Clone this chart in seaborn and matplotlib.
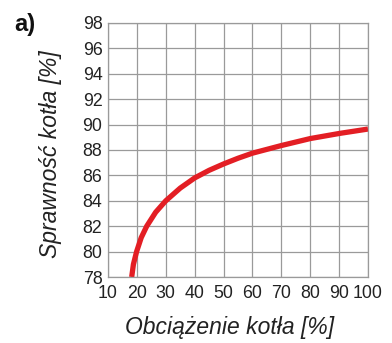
import matplotlib
matplotlib.use("Agg")
import matplotlib.pyplot as plt
import pandas as pd
import seaborn as sns

# Boiler efficiency vs. boiler load
load = [18.2, 18.8, 19.9, 21.5, 23.4, 26.5, 30.0, 35.0, 40.0, 45.0, 50.0,
        55.0, 60.0, 70.0, 80.0, 90.0, 100.0]
efficiency = [78.0, 79.0, 80.0, 81.1, 82.0, 83.1, 84.0, 85.0, 85.8, 86.4,
              86.9, 87.35, 87.75, 88.35, 88.9, 89.3, 89.65]

x_ticks = [10, 20, 30, 40, 50, 60, 70, 80, 90, 100]
y_ticks = [78, 80, 82, 84, 86, 88, 90, 92, 94, 96, 98]

df = pd.DataFrame({"load": load, "eff": efficiency})

sns.set_style("white")
plt.rcParams['font.family'] = ['Liberation Sans Narrow', 'Liberation Sans', 'DejaVu Sans']

fig = plt.figure(figsize=(3.92, 3.43), dpi=100)
ax = fig.add_axes([0.2755, 0.1924, 0.6633, 0.7406])

sns.lineplot(data=df, x="load", y="eff", ax=ax, color="#e31e24",
             linewidth=3.8, solid_capstyle="butt", estimator=None)

ax.set_xlim(10, 100)
ax.set_ylim(78, 98)
ax.set_xticks(x_ticks)
ax.set_yticks(y_ticks)
ax.grid(True, color="#9a9a9a", linewidth=0.9)
ax.set_axisbelow(True)
for s in ax.spines.values():
    s.set_color("#9a9a9a")
    s.set_linewidth(0.9)

ax.tick_params(axis="both", length=0, labelsize=12.8, colors="#222222")
ax.tick_params(axis="y", pad=4)
ax.tick_params(axis="x", pad=6)

lab_font = ["Liberation Sans", "DejaVu Sans"]
ax.set_xlabel("Obciążenie kotła [%]", fontsize=16.5, style="italic",
              family=lab_font, color="#222222")
ax.set_ylabel("Sprawność kotła [%]", fontsize=16.5, style="italic",
              family=lab_font, color="#222222")
ax.xaxis.set_label_coords(0.469, -0.197)
ax.xaxis.label.set_va("center")
ax.yaxis.set_label_coords(-0.223, 0.484)
ax.yaxis.label.set_va("center")

fig.text(25 / 392, 1 - 24 / 343, "a)", fontsize=17, fontweight="bold",
         color="#111111", va="center", ha="center")

fig.savefig("out.png", dpi=100)
